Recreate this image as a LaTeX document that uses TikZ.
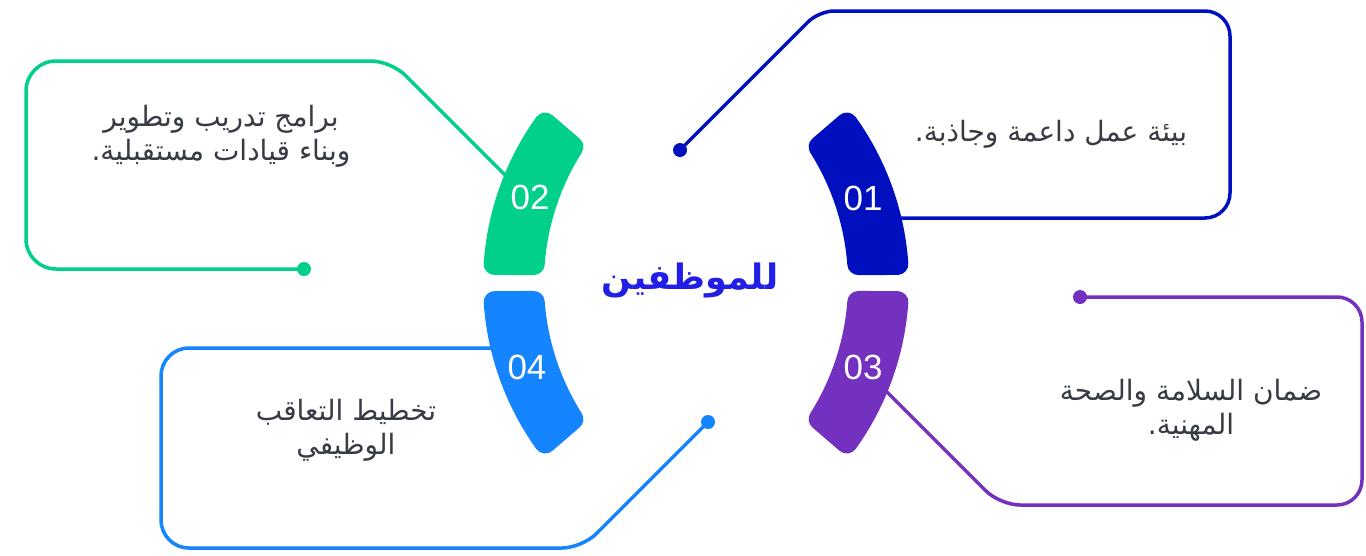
\documentclass[tikz,border=0pt]{standalone}
\usepackage{fontspec}
\TeXXeTstate=1
\newfontfamily\arabicfont[Script=Arabic]{DejaVu Sans}
\newfontfamily\numfont{Liberation Sans}
\definecolor{cone}{RGB}{0,16,190}
\definecolor{ctwo}{RGB}{0,208,138}
\definecolor{cthree}{RGB}{116,48,190}
\definecolor{cfour}{RGB}{20,132,255}
\definecolor{ctitle}{RGB}{34,30,230}
\definecolor{ctext}{RGB}{55,60,68}
\begin{document}
\begin{tikzpicture}[x=1pt,y=-1pt,
  conn/.style={line width=3.5pt, line cap=round},
  dotnode/.style={circle, inner sep=0pt, minimum size=14pt},
  seg/.style={line width=22pt, line join=round},
  num/.style={text=white, font=\numfont\fontsize{35}{40}\selectfont},
  body/.style={text=ctext, font=\arabicfont\fontsize{28}{34}\selectfont, align=center},
]
\useasboundingbox (0,0) rectangle (1366,555);
\fill[white] (0,0) rectangle (1366,555);

% dots
\node[dotnode, fill=cone] (d1) at (680,150) {};
\node[dotnode, fill=ctwo] (d2) at (304,269) {};
\node[dotnode, fill=cthree] (d3) at (1080,297) {};
\node[dotnode, fill=cfour] (d4) at (708,422) {};

% connector ends inside the segments
\coordinate (e1) at (880,218);
\coordinate (e2) at (515,185);
\coordinate (e3) at (878,383);
\coordinate (e4) at (505,348);

% connectors / boxes
\draw[conn, cone, rounded corners=15pt] (d1.center) -- (819,11) [rounded corners=25pt] -- (1230,11) -- (1230,218) -- (e1);
\draw[conn, ctwo, rounded corners=30pt] (d2.center) -- (26,269) -- (26,61) [rounded corners=20pt] -- (391,61) -- (e2);
\draw[conn, cthree, rounded corners=25pt] (d3.center) -- (1362,297) -- (1362,505) [rounded corners=20pt] -- (1000,505) -- (e3);
\draw[conn, cfour, rounded corners=20pt] (d4.center) -- (582,548) [rounded corners=28pt] -- (161,548) -- (161,348) -- (e4);

% arc segments
\foreach \sx/\sy/\col in {1/1/cone, -1/1/ctwo, 1/-1/cthree, -1/-1/cfour} {
  \filldraw[seg, color=\col]
    plot[domain=3.98:35.6, samples=40] ({696+\sx*(-72+274*cos(\x))},{283-\sy*274*sin(\x)})
    -- plot[domain=32.26:4.27, samples=40] ({696+\sx*(-92+255*cos(\x))},{283-\sy*255*sin(\x)})
    -- cycle;
}

% numbers
\node[num] (n1) at (863,198) {01};
\node[num] (n2) at (530,197) {02};
\node[num] (n3) at (863,367) {03};
\node[num] (n4) at (527,367) {04};

% title
\node[text=ctitle, font=\arabicfont\bfseries\fontsize{35}{40}\selectfont] (title) at (690,280) {\beginR للموظفين\endR};

% texts
\node[body] (t1) at (1051,134) {\beginR بيئة عمل داعمة وجاذبة.\endR};
\node[body] (t2) at (221,136) {\beginR برامج تدريب وتطوير\endR\\\beginR وبناء قيادات مستقبلية.\endR};
\node[body] (t3) at (1191,410) {\beginR ضمان السلامة والصحة\endR\\\beginR المهنية.\endR};
\node[body] (t4) at (346,430) {\beginR تخطيط التعاقب\endR\\\beginR الوظيفي\endR};
\end{tikzpicture}
\end{document}
